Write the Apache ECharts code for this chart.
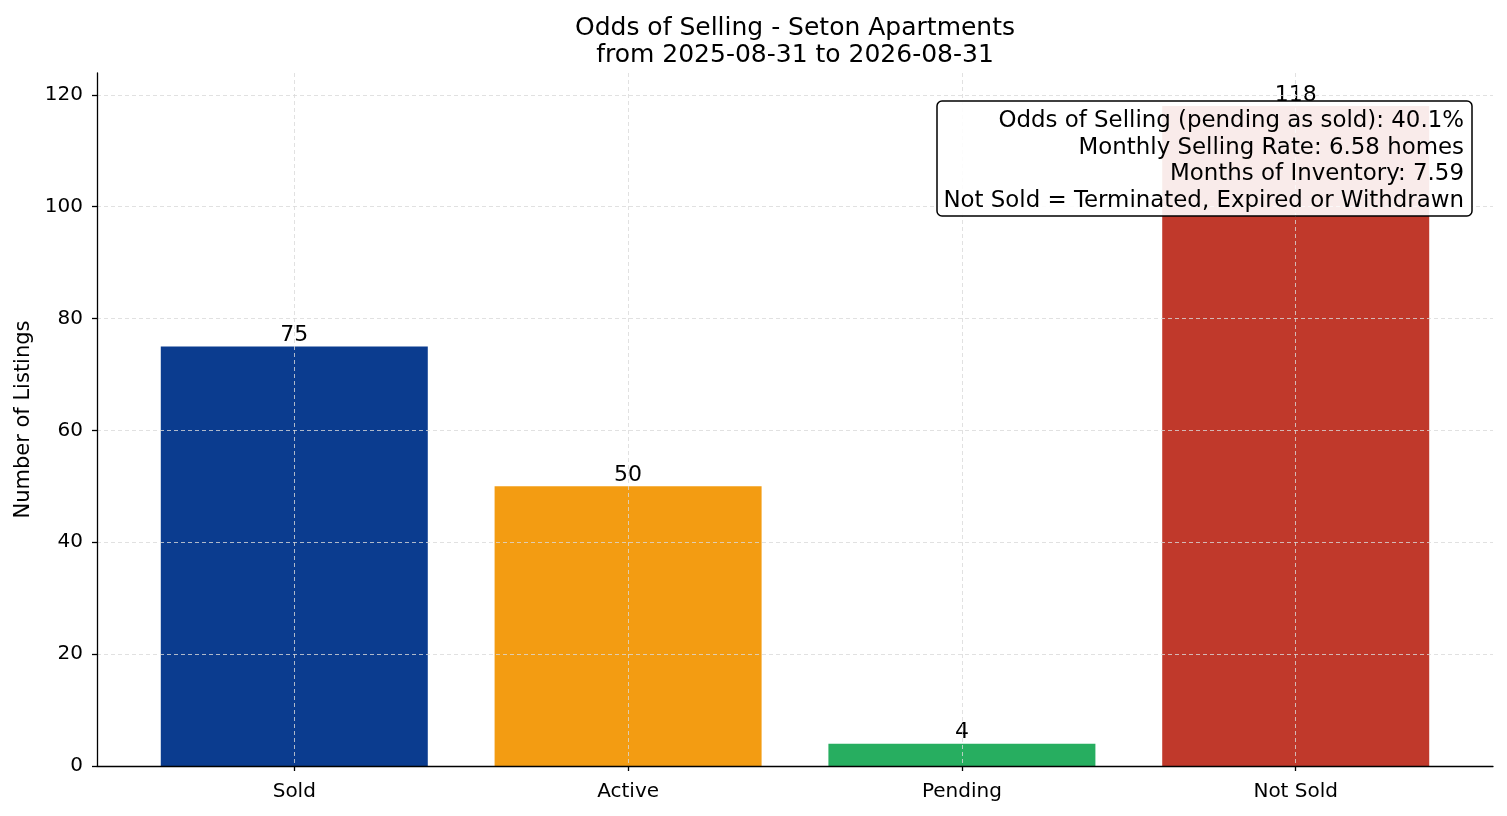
<!DOCTYPE html>
<html>
<head>
<meta charset="utf-8">
<title>Odds of Selling - Seton Apartments</title>
<script src="https://cdn.jsdelivr.net/npm/echarts@6/dist/echarts.min.js"></script>
<style>
	html, body { margin: 0; padding: 0; background: #fff; }
	#chart { width: 1507px; height: 816px; }
</style>
</head>
<body>
<div id="chart"></div>
<script>
// data
var categories = ['Sold', 'Active', 'Pending', 'Not Sold'];
var counts = [75, 50, 4, 118];
var yTicks = [0, 20, 40, 60, 80, 100, 120];
var statLines = [
	'Odds of Selling (pending as sold): 40.1%',
	'Monthly Selling Rate: 6.58 homes',
	'Months of Inventory: 7.59',
	'Not Sold = Terminated, Expired or Withdrawn'
];

var barColors = ['#0b3c8f', '#f39c12', '#27ae60', '#c0392b'];
var font = 'DejaVu Sans';
var gridColor = '#d9d9d9';

var chart = echarts.init(document.getElementById('chart'));

var barData = [];
for (var i = 0; i < counts.length; i++) {
	barData.push({
		value: [i, counts[i]],
		itemStyle: { color: barColors[i] }
	});
}

var option = {
	backgroundColor: '#fff',
	animation: false,
	title: {
		text: 'Odds of Selling - Seton Apartments\nfrom 2025-08-31 to 2026-08-31',
		left: 795,
		top: 14.5,
		textAlign: 'center',
		padding: 0,
		textStyle: {
			fontFamily: font,
			fontSize: 25,
			fontWeight: 'normal',
			color: '#000',
			lineHeight: 27.5
		}
	},
	grid: { left: 97, right: 14, top: 73, bottom: 50, outerBoundsMode: 'none' },
	xAxis: {
		type: 'value',
		min: -0.591,
		max: 3.591,
		z: 3,
		axisLine: { show: true, onZero: false, lineStyle: { color: '#000', width: 1.3 } },
		axisTick: { show: true, length: 5, customValues: [0, 1, 2, 3], lineStyle: { color: '#000', width: 1.3 } },
		axisLabel: {
			customValues: [0, 1, 2, 3],
			margin: 16,
			fontFamily: font,
			fontSize: 20,
			color: '#000',
			formatter: function (v) {
				return categories[Math.round(v)] || '';
			}
		},
		splitLine: { show: true, lineStyle: { color: gridColor, type: [4, 3], width: 0.8 } }
	},
	yAxis: {
		type: 'value',
		min: 0,
		max: 123.9,
		z: 3,
		name: 'Number of Listings',
		nameLocation: 'middle',
		nameGap: 63,
		nameRotate: 90,
		nameTextStyle: { fontFamily: font, fontSize: 21, color: '#000' },
		axisLine: { show: true, onZero: false, lineStyle: { color: '#000', width: 1.3 } },
		axisTick: { show: true, length: 5, customValues: yTicks, lineStyle: { color: '#000', width: 1.3 } },
		axisLabel: {
			customValues: yTicks,
			margin: 14,
			fontFamily: font,
			fontSize: 20,
			color: '#000'
		},
		splitLine: { show: true, lineStyle: { color: gridColor, type: [4, 3], width: 0.8 } }
	},
	series: [{
		type: 'bar',
		data: barData,
		barWidth: 267,
		label: {
			show: true,
			position: 'top',
			distance: 0,
			fontFamily: font,
			fontSize: 22,
			color: '#000',
			formatter: function (p) { return p.value[1]; }
		}
	}],
	graphic: [{
		type: 'rect',
		z: 100,
		zlevel: 1,
		shape: { x: 937, y: 101, width: 535, height: 115, r: 5 },
		style: { fill: 'rgba(255,255,255,0.9)', stroke: '#000', lineWidth: 1.5 }
	}, {
		type: 'text',
		z: 101,
		zlevel: 1,
		style: {
			text: statLines.join('\n'),
			x: 1464,
			y: 107.6,
			textAlign: 'right',
			textVerticalAlign: 'top',
			fontFamily: font,
			fontSize: 22.9,
			lineHeight: 26.7,
			fill: '#000'
		}
	}]
};

chart.setOption(option);
</script>
</body>
</html>
